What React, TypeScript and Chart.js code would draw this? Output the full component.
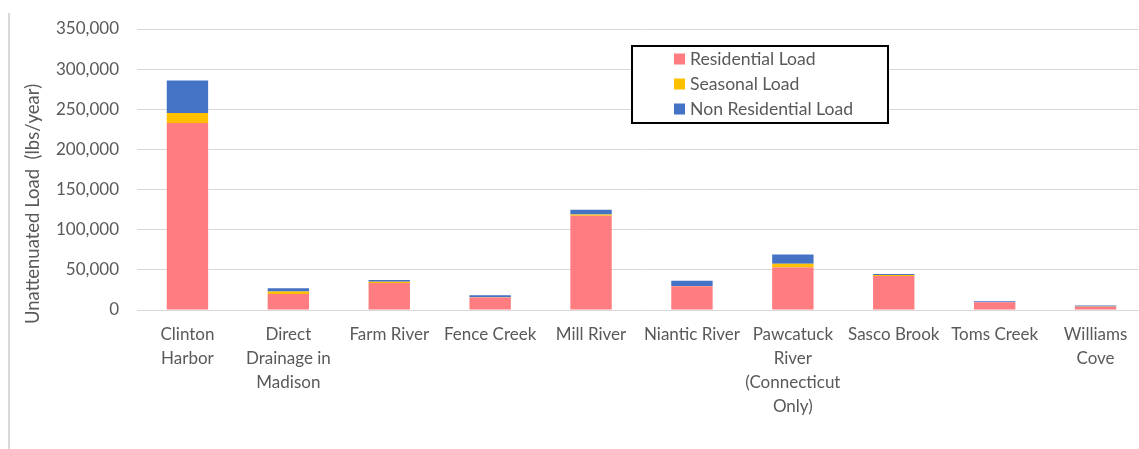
import React, { useEffect, useRef } from "react";
import { Chart, registerables } from "chart.js";

Chart.register(...registerables);

const categories: (string | string[])[] = [
  ["Clinton", "Harbor"],
  ["Direct", "Drainage in", "Madison"],
  "Farm River",
  "Fence Creek",
  "Mill River",
  "Niantic River",
  ["Pawcatuck", "River", "(Connecticut", "Only)"],
  "Sasco Brook",
  "Toms Creek",
  ["Williams", "Cove"],
];

const residentialLoad = [233000, 20000, 33500, 15500, 117500, 29500, 53000, 42500, 9500, 4200];
const seasonalLoad = [12500, 3000, 1800, 500, 1500, 300, 4500, 1200, 300, 200];
const nonResidentialLoad = [40500, 4000, 2000, 2500, 6000, 6500, 11500, 1000, 1200, 1200];

const seriesNames = ["Residential Load", "Seasonal Load", "Non Residential Load"];
const seriesColors = ["#FF7C80", "#FFC000", "#4472C4"];

const yTitle = "Unattenuated Load  (lbs/year)";
const FONT = "Lato";
const TEXT = "#595959";

const decorPlugin = {
  id: "decor",
  beforeDraw(chart: any) {
    const ctx = chart.ctx;
    ctx.save();
    ctx.strokeStyle = "#d9d9d9";
    ctx.lineWidth = 2;
    ctx.beginPath();
    ctx.moveTo(9, 13);
    ctx.lineTo(9, 449);
    ctx.stroke();
    ctx.restore();
  },
  afterDraw(chart: any) {
    const ctx = chart.ctx;
    ctx.save();
    // y axis title
    ctx.translate(33, 204);
    ctx.rotate(-Math.PI / 2);
    ctx.font = `18.5px ${FONT}`;
    ctx.fillStyle = TEXT;
    ctx.textAlign = "center";
    ctx.textBaseline = "middle";
    ctx.fillText(yTitle, 0, 0);
    ctx.restore();

    // legend box
    ctx.save();
    ctx.fillStyle = "#ffffff";
    ctx.fillRect(632, 46, 256, 77);
    ctx.strokeStyle = "#000000";
    ctx.lineWidth = 2;
    ctx.strokeRect(632, 46, 256, 77);
    ctx.font = `17.6px ${FONT}`;
    ctx.textBaseline = "middle";
    ctx.textAlign = "left";
    chart.data.datasets.forEach((ds: any, i: number) => {
      const cy = 59 + i * 25;
      ctx.fillStyle = ds.backgroundColor;
      ctx.fillRect(674, cy - 5.5, 11, 11);
      ctx.fillStyle = TEXT;
      ctx.fillText(ds.label, 690, cy);
    });
    ctx.restore();
  },
};

export default function App() {
  const ref = useRef<HTMLCanvasElement>(null);
  useEffect(() => {
    if (!ref.current) return;
    const chart = new Chart(ref.current, {
      type: "bar",
      data: {
        labels: categories,
        datasets: [residentialLoad, seasonalLoad, nonResidentialLoad].map((d, i) => ({
          label: seriesNames[i],
          data: d,
          backgroundColor: seriesColors[i],
          borderWidth: 0,
          categoryPercentage: 1,
          barPercentage: 0.41,
        })),
      },
      options: {
        responsive: false,
        animation: false,
        layout: { padding: { left: 0, right: 14, top: 29, bottom: 0 } },
        plugins: { legend: { display: false }, tooltip: { enabled: false } },
        scales: {
          x: {
            stacked: true,
            grid: { display: false, drawTicks: false },
            border: { display: false },
            ticks: {
              color: TEXT,
              font: { family: FONT, size: 17, lineHeight: 1.41 },
              padding: 13,
              maxRotation: 0,
              autoSkip: false,
            },
            afterFit: (s: any) => {
              s.height = 139;
            },
          },
          y: {
            stacked: true,
            min: 0,
            max: 350000,
            grid: { color: "#d9d9d9", lineWidth: 1, drawTicks: false },
            border: { display: false },
            ticks: {
              stepSize: 50000,
              color: TEXT,
              font: { family: FONT, size: 17 },
              padding: 18,
              callback: (v: any) => Number(v).toLocaleString("en-US"),
            },
            afterFit: (s: any) => {
              s.width = 137;
            },
          },
        },
      },
      plugins: [decorPlugin],
    });
    return () => chart.destroy();
  }, []);
  return (
    <div style={{ position: "fixed", left: 0, top: 0, width: 1139, height: 449, overflow: "hidden", background: "#fff" }}>
      <canvas ref={ref} width={1160} height={449} style={{ display: "block" }} />
    </div>
  );
}
